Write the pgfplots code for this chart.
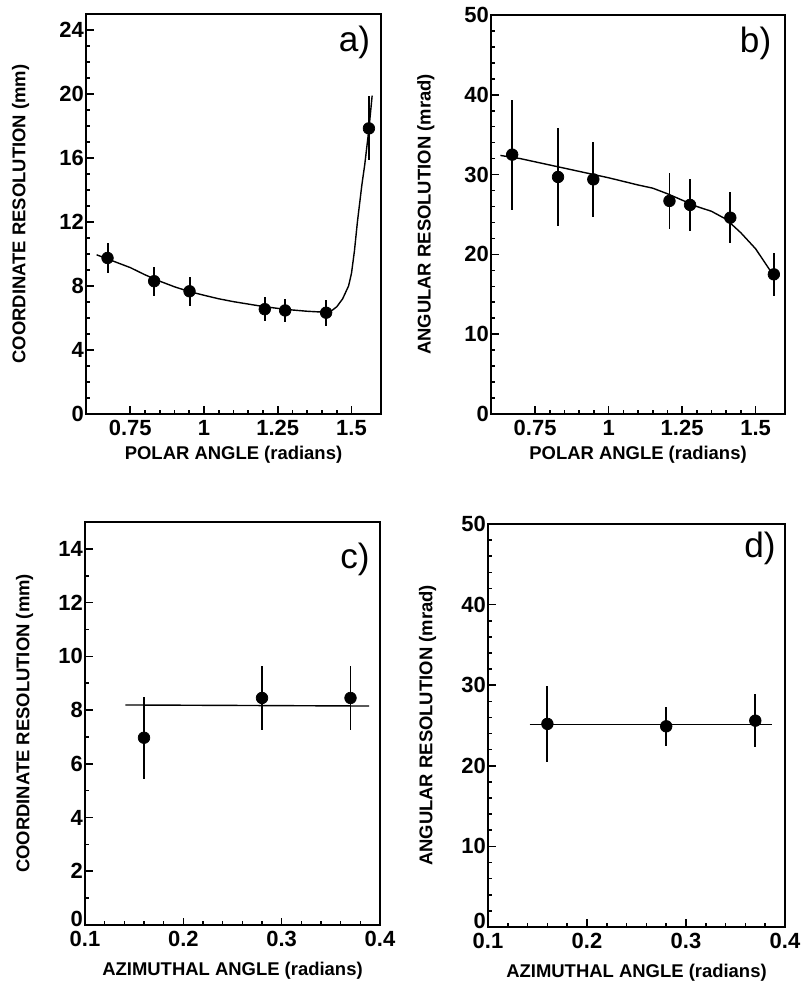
\documentclass[border=0pt]{standalone}
\usepackage{fontspec}
\setmainfont{Liberation Sans}
\usepackage{pgfplots}
\pgfplotsset{compat=1.18}
\usepackage{pgfplotstable}

% polar angle: data points with errors
\pgfplotstableread{
x      y      e
0.673  9.75   0.95
0.831  8.30   0.90
0.951  7.67   0.90
1.206  6.55   0.75
1.275  6.47   0.72
1.414  6.33   0.80
1.559  17.85  2.00
}\coordpolar
\pgfplotstableread{
x      y      e
0.672  32.5   6.9
0.828  29.7   6.2
0.948  29.4   4.7
1.207  26.7   3.5
1.277  26.2   3.3
1.414  24.6   3.2
1.562  17.5   2.7
}\angpolar
% fitted curves
\pgfplotstableread{
x      y
0.636  9.95
0.70   9.50
0.75   9.15
0.80   8.70
0.85   8.30
0.90   7.95
0.95   7.65
1.00   7.42
1.05   7.20
1.10   7.02
1.15   6.87
1.20   6.72
1.25   6.60
1.30   6.50
1.35   6.42
1.40   6.37
1.43   6.42
1.45   6.70
1.47   7.20
1.49   8.00
1.50   8.80
1.51   10.2
1.52   12.0
1.535  14.3
1.545  15.6
1.559  17.8
1.57   19.9
}\coordfit
\pgfplotstableread{
x      y
0.632  32.4
0.70   32.0
0.80   31.2
0.90   30.4
1.00   29.6
1.10   28.7
1.15   28.3
1.20   27.6
1.25   26.8
1.30   26.0
1.35   25.4
1.40   24.4
1.45   22.7
1.50   20.7
1.56   17.4
}\angfit
% azimuthal angle
\pgfplotstableread{
x      y      e
0.16   6.97   1.52
0.28   8.45   1.20
0.37   8.45   1.20
}\coordazim
\pgfplotstableread{
x      y      e
0.16   25.2   4.7
0.28   24.9   2.4
0.37   25.6   3.3
}\angazim

\begin{document}
\begin{tikzpicture}
\pgfplotsset{
  resplot/.style={
    scale only axis,
    axis line style={line width=1.4pt},
    tick style={line width=0.9pt, black},
    major tick length=0.15cm, minor tick length=0.08cm,
    xtick pos=bottom, ytick pos=left,
    tick align=inside,
    /pgf/number format/assume math mode=true,
    ticklabel style={font=\fontsize{12.5}{13}\selectfont\bfseries},
    yticklabel style={xshift=0.08cm},
    label style={font=\fontsize{10.5}{12}\selectfont\bfseries},
  },
  pts/.style={only marks, mark=*, mark size=3.3pt, black,
    error bars/.cd, y dir=both, y explicit, error mark=none,
    error bar style={line width=1.1pt}},
  fit/.style={no marks, black, line width=0.8pt},
}
\tikzset{panel/.style={font=\fontsize{20}{22}\selectfont}}
\path[use as bounding box] (0,0) rectangle (16.02cm,19.78cm);

% a)
\begin{axis}[resplot, at={(1.72cm,11.50cm)}, anchor=south west,
  width=5.90cm, height=8.00cm,
  xmin=0.6, xmax=1.6, ymin=0, ymax=25,
  xtick={0.75,1,1.25,1.5}, minor x tick num=4,
  ytick={0,4,...,24}, minor y tick num=3,
  xlabel={POLAR ANGLE (radians)}, ylabel={COORDINATE RESOLUTION (mm)},
  xlabel style={at={(axis description cs:0.5,-0.102)}, anchor=center},
  ylabel style={at={(axis description cs:-0.222,0.5)}, anchor=center}]
\addplot[fit] table[x=x,y=y] {\coordfit};
\addplot[pts] table[x=x,y=y,y error=e] {\coordpolar};
\node[panel] at (rel axis cs:0.91,0.93) {a)};
\end{axis}

% b)
\begin{axis}[resplot, at={(9.82cm,11.50cm)}, anchor=south west,
  width=5.88cm, height=7.98cm,
  xmin=0.6, xmax=1.6, ymin=0, ymax=50,
  xtick={0.75,1,1.25,1.5}, minor x tick num=4,
  ytick={0,10,...,50}, minor y tick num=4,
  xlabel={POLAR ANGLE (radians)}, ylabel={ANGULAR RESOLUTION (mrad)},
  xlabel style={at={(axis description cs:0.5,-0.102)}, anchor=center},
  ylabel style={at={(axis description cs:-0.222,0.5)}, anchor=center}]
\addplot[fit] table[x=x,y=y] {\angfit};
\addplot[pts] table[x=x,y=y,y error=e] {\angpolar};
\node[panel] at (rel axis cs:0.90,0.93) {b)};
\end{axis}

% c)
\begin{axis}[resplot, at={(1.70cm,1.28cm)}, anchor=south west,
  width=5.90cm, height=8.06cm,
  xmin=0.1, xmax=0.4, ymin=0, ymax=15,
  xtick={0.1,0.2,0.3,0.4}, minor x tick num=4,
  ytick={0,2,...,14}, minor y tick num=1,
  yticklabels={\raisebox{7pt}{0},2,4,6,8,10,12,14},
  xlabel={AZIMUTHAL ANGLE (radians)}, ylabel={COORDINATE RESOLUTION (mm)},
  xlabel style={at={(axis description cs:0.5,-0.114)}, anchor=center},
  ylabel style={at={(axis description cs:-0.205,0.5)}, anchor=center}]
\addplot[fit] coordinates {(0.141,8.19) (0.389,8.15)};
\addplot[pts] table[x=x,y=y,y error=e] {\coordazim};
\node[panel] at (rel axis cs:0.915,0.906) {c)};
\end{axis}

% d)
\begin{axis}[resplot, at={(9.76cm,1.24cm)}, anchor=south west,
  width=5.94cm, height=8.06cm,
  xmin=0.1, xmax=0.4, ymin=0, ymax=50,
  xtick={0.1,0.2,0.3,0.4}, minor x tick num=4,
  ytick={0,10,...,50}, minor y tick num=4,
  yticklabels={\raisebox{7pt}{0},10,20,30,40,50},
  xlabel={AZIMUTHAL ANGLE (radians)}, ylabel={ANGULAR RESOLUTION (mrad)},
  xlabel style={at={(axis description cs:0.5,-0.114)}, anchor=center},
  ylabel style={at={(axis description cs:-0.203,0.5)}, anchor=center}]
\addplot[fit] coordinates {(0.142,25.1) (0.387,25.1)};
\addplot[pts] table[x=x,y=y,y error=e] {\angazim};
\node[panel] at (rel axis cs:0.916,0.94) {d)};
\end{axis}
\end{tikzpicture}
\end{document}
